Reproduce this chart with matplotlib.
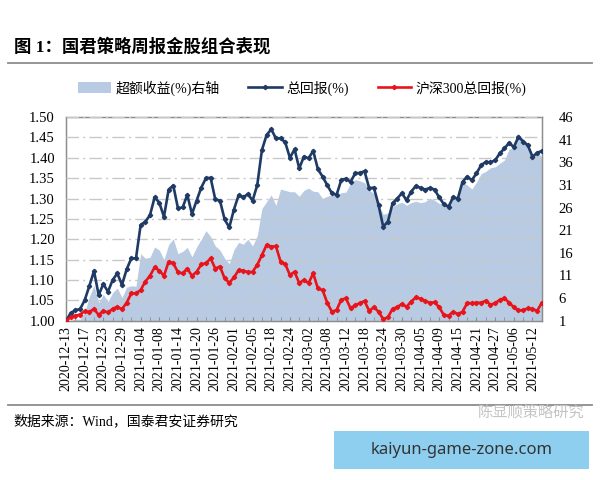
import numpy as np
import matplotlib
matplotlib.use("Agg")
import matplotlib.pyplot as plt
from matplotlib.lines import Line2D
from matplotlib.patches import Patch, Rectangle

plt.rcParams['font.family'] = ['Liberation Serif', 'Noto Sans CJK SC']

# Data (daily points, 2020-12-13 .. 2021-05-14)
total_ret = [
    1.000, 1.018, 1.026, 1.028, 1.050, 1.085, 1.122, 1.063, 1.090, 1.071,
    1.100, 1.116, 1.088, 1.126, 1.153, 1.153, 1.235, 1.243, 1.259, 1.303,
    1.290, 1.255, 1.322, 1.332, 1.276, 1.278, 1.309, 1.262, 1.295, 1.327,
    1.350, 1.351, 1.298, 1.295, 1.249, 1.229, 1.273, 1.308, 1.303, 1.311,
    1.295, 1.333, 1.419, 1.456, 1.470, 1.448, 1.448, 1.438, 1.400, 1.421,
    1.374, 1.403, 1.399, 1.417, 1.372, 1.354, 1.333, 1.313, 1.309, 1.345,
    1.349, 1.341, 1.362, 1.363, 1.367, 1.325, 1.327, 1.284, 1.231, 1.243,
    1.288, 1.300, 1.313, 1.296, 1.317, 1.331, 1.326, 1.322, 1.326, 1.322,
    1.303, 1.286, 1.280, 1.303, 1.300, 1.341, 1.354, 1.345, 1.362, 1.382,
    1.390, 1.389, 1.394, 1.411, 1.423, 1.437, 1.426, 1.452, 1.440, 1.431,
    1.403, 1.412, 1.417,
]
hs300_ret = [
    1.000, 1.008, 1.012, 1.015, 1.023, 1.021, 1.029, 1.014, 1.024, 1.020,
    1.029, 1.034, 1.028, 1.044, 1.067, 1.067, 1.075, 1.096, 1.110, 1.131,
    1.123, 1.110, 1.145, 1.141, 1.119, 1.116, 1.128, 1.110, 1.120, 1.138,
    1.141, 1.153, 1.128, 1.133, 1.104, 1.093, 1.106, 1.124, 1.123, 1.119,
    1.120, 1.137, 1.161, 1.186, 1.182, 1.183, 1.145, 1.139, 1.112, 1.120,
    1.092, 1.100, 1.092, 1.116, 1.079, 1.075, 1.044, 1.022, 1.026, 1.051,
    1.055, 1.030, 1.038, 1.043, 1.048, 1.024, 1.033, 1.022, 1.004, 1.008,
    1.029, 1.033, 1.041, 1.034, 1.047, 1.057, 1.054, 1.048, 1.044, 1.045,
    1.033, 1.014, 1.012, 1.022, 1.016, 1.022, 1.043, 1.043, 1.044, 1.044,
    1.049, 1.039, 1.043, 1.051, 1.055, 1.044, 1.033, 1.025, 1.026, 1.030,
    1.029, 1.024, 1.044,
]
excess = [
    0.0, 1.0, 1.4, 1.3, 2.8, 6.3, 8.8, 5.0, 6.8, 5.2,
    7.2, 8.2, 6.1, 8.4, 8.7, 8.6, 15.8, 14.8, 15.0, 17.3,
    16.6, 14.5, 17.8, 19.1, 15.8, 16.3, 17.2, 15.1, 17.3, 19.0,
    20.9, 19.6, 17.5, 16.6, 14.8, 13.6, 16.7, 18.3, 17.9, 19.0,
    17.5, 19.8, 25.8, 27.3, 28.8, 26.5, 30.1, 29.8, 29.5, 29.5,
    28.5, 29.8, 30.3, 29.6, 29.5, 28.0, 28.5, 28.8, 28.5, 29.3,
    29.4, 31.3, 32.2, 31.9, 31.5, 29.9, 29.1, 26.6, 24.5, 24.8,
    26.2, 26.8, 27.2, 26.5, 27.1, 27.4, 27.1, 27.3, 28.1, 27.6,
    26.9, 26.8, 26.5, 28.0, 28.3, 31.6, 31.0, 30.1, 31.6, 33.5,
    34.0, 34.8, 35.0, 35.8, 36.5, 39.0, 39.1, 42.3, 41.2, 39.9,
    37.2, 38.6, 37.0,
]
tick_labels = [
    '2020-12-13', '2020-12-17', '2020-12-23', '2020-12-29', '2021-01-04',
    '2021-01-08', '2021-01-14', '2021-01-20', '2021-01-26', '2021-02-01',
    '2021-02-05', '2021-02-18', '2021-02-24', '2021-03-02', '2021-03-08',
    '2021-03-12', '2021-03-18', '2021-03-24', '2021-03-30', '2021-04-05',
    '2021-04-09', '2021-04-15', '2021-04-21', '2021-04-27', '2021-05-06',
    '2021-05-12',
]

AREA = '#b9cbe2'
NAVY = '#1f3a64'
RED = '#e8141c'
GRID = '#c8c8c8'
SPINE = '#8c8c8c'

x = np.arange(len(total_ret))

fig = plt.figure(figsize=(6, 4.8), dpi=100)
ax = fig.add_axes((0.110, 0.332, 0.793, 0.424))
ax2 = ax.twinx()

# area on the right axis, drawn underneath the lines
ax2.fill_between(x, excess, 0, color=AREA, linewidth=0)
ax2.set_ylim(1, 46)
ax2.set_yticks(np.arange(1, 47, 5))
ax.set_zorder(ax2.get_zorder() + 1)
ax.patch.set_visible(False)

ax.plot(x, total_ret, color=NAVY, lw=1.9, marker='D', ms=2.2, zorder=4)
ax.plot(x, hs300_ret, color=RED, lw=1.9, marker='D', ms=2.2, zorder=4)

ax.set_xlim(0, len(x) - 1)
ax.set_ylim(1.0, 1.5)
ax.set_yticks(np.arange(1.0, 1.501, 0.05))
ax.set_yticklabels([f'{v:.2f}' for v in np.arange(1.0, 1.501, 0.05)])
ax.yaxis.grid(True, color=GRID, lw=1.0, dashes=(9, 3, 1.5, 3))
ax.set_axisbelow(False)

ax.set_xticks(x[::4])
ax.set_xticklabels(tick_labels, rotation=90)
ax.set_xticks(x[::2], minor=True)
ax.tick_params(axis='x', which='both', direction='in', length=3, color=SPINE,
               labelsize=10, pad=4)
ax.tick_params(axis='y', length=0, labelsize=10.5, pad=8)
ax2.tick_params(axis='y', length=0, labelsize=10.5, pad=12)
ax2.tick_params(axis='x', length=0)

for a in (ax, ax2):
    for s in a.spines.values():
        s.set_color(SPINE)
        s.set_linewidth(0.9)

# title, rules and legend
fig.text(0.023, 1 - 47 / 480, '图 1：国君策略周报金股组合表现', fontsize=12.5,
         fontweight='bold', va='center', ha='left')
fig.add_artist(Line2D([0.013, 0.987], [1 - 63 / 480] * 2, color='#8c8c8c', lw=1.3))
fig.add_artist(Line2D([0.013, 0.987], [1 - 405 / 480] * 2, color='#8c8c8c', lw=1.3))

handles = [
    Patch(facecolor=AREA, edgecolor='none'),
    Line2D([], [], color=NAVY, lw=1.9, marker='D', ms=2.2),
    Line2D([], [], color=RED, lw=1.9, marker='D', ms=2.2),
]
fig.legend(handles, ['超额收益(%)右轴', '总回报(%)', '沪深300总回报(%)'],
           loc='center', bbox_to_anchor=(0.503, 1 - 88 / 480), ncol=3,
           frameon=False, fontsize=10, handlelength=2.4, handleheight=0.9,
           handletextpad=0.3, columnspacing=2.1)

fig.text(0.023, 1 - 421 / 480, '数据来源：Wind，国泰君安证券研究', fontsize=10,
         va='center', ha='left')
fig.text(0.975, 1 - 412 / 480, '陈显顺策略研究', fontsize=11, color='#c4c4c4',
         va='center', ha='right')

fig.add_artist(Rectangle((334 / 600, 1 - 469 / 480), 255 / 600, 38 / 480,
                         transform=fig.transFigure, facecolor='#8ecff0',
                         edgecolor='none'))
fig.text(462 / 600, 1 - 450 / 480, 'kaiyun-game-zone.com', fontsize=12,
         family='Noto Sans', color='#333333', va='center', ha='center')

fig.savefig('out.png', dpi=100)
